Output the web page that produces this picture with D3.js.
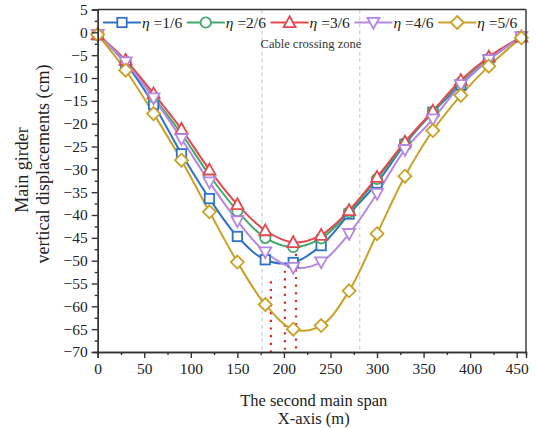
<!DOCTYPE html>
<html>
<head>
<meta charset="utf-8">
<script src="https://cdn.jsdelivr.net/npm/d3@7"></script>
<style>
  body { margin: 0; background: #fff; }
  svg { display: block; font-family: "Liberation Serif", "Times New Roman", serif; }
  svg text { font-family: "Liberation Serif", "Times New Roman", serif !important; }
</style>
</head>
<body>
<svg width="536" height="428"></svg>
<script>
// span positions (m)
var xs = [0, 30, 60, 90, 120, 150, 180, 210, 240, 270, 300, 330, 360, 390, 420, 455];

// vertical displacements (cm) for each eta
var eta1 = [-0.5, -6.8, -15.8, -26.6, -36.4, -44.7, -49.8, -50.4, -46.7, -39.8, -33.0, -24.5, -17.5, -11.5, -6.0, -1.0];
var eta2 = [-0.5, -6.4, -14.2, -22.2, -31.3, -39.1, -45.0, -47.0, -45.1, -39.4, -32.1, -24.3, -17.4, -11.0, -5.8, -1.0];
var eta3 = [-0.5, -6.1, -13.4, -21.2, -30.1, -37.7, -43.4, -46.0, -44.4, -39.0, -31.7, -24.0, -17.2, -10.5, -5.4, -1.0];
var eta4 = [-0.5, -6.5, -14.4, -23.3, -32.8, -41.3, -48.1, -51.5, -50.3, -44.1, -35.3, -25.7, -19.0, -11.5, -6.0, -1.0];
var eta5 = [-0.5, -8.3, -17.8, -28.0, -39.3, -50.3, -59.6, -65.0, -64.2, -56.6, -44.1, -31.5, -21.5, -13.8, -7.4, -1.2];

var names = ["=1/6", "=2/6", "=3/6", "=4/6", "=5/6"];
var colors = ["#2f72c4", "#43a86c", "#e04a4f", "#b487e0", "#c9a128"];
var symbols = ["square", "circle", "up", "down", "diamond"];

// cable crossing zone bounds and the red marker lines
var zone = [176.5, 281.5];
var markX = [186, 201, 213];
var markY = [-54.5, -50.5, -48.5];

var svg = d3.select("svg"),
    pLeft = 97.7, pRight = 526, pTop = 9.5, pBottom = 352;

var x = d3.scaleLinear().domain([0, 460]).range([pLeft, pRight]);
var y = d3.scaleLinear().domain([-70, 5]).range([pBottom, pTop]);

var series = [eta1, eta2, eta3, eta4, eta5].map(function(v, i) {
  return { name: names[i], color: colors[i], sym: symbols[i],
    pts: xs.map(function(d, j) { return [d, v[j]]; }) };
});

// marker shapes
function marker(g, sym, color) {
  var s = 5.2;
  if (sym == "square") g.append("rect").attr("x", -s + 0.5).attr("y", -s + 0.5).attr("width", 2 * s - 1).attr("height", 2 * s - 1);
  else if (sym == "circle") g.append("circle").attr("r", s);
  else if (sym == "up") g.append("path").attr("d", "M0," + (-s - 1) + "L" + (s + 0.8) + "," + (s - 0.5) + "L" + (-s - 0.8) + "," + (s - 0.5) + "Z");
  else if (sym == "down") g.append("path").attr("d", "M0," + (s + 1) + "L" + (s + 0.8) + "," + (-s + 0.5) + "L" + (-s - 0.8) + "," + (-s + 0.5) + "Z");
  else g.append("path").attr("d", "M0," + (-s - 1.3) + "L" + (s + 1.3) + ",0L0," + (s + 1.3) + "L" + (-s - 1.3) + ",0Z");
  g.selectAll("*").attr("fill", "#fff").attr("stroke", color).attr("stroke-width", 1.8);
}

// zone dashed lines
svg.selectAll(".zone").data(zone).enter().append("line")
  .attr("x1", function(d) { return x(d); }).attr("x2", function(d) { return x(d); })
  .attr("y1", pTop).attr("y2", pBottom)
  .attr("stroke", "#c4c4c4").attr("stroke-width", 1).attr("stroke-dasharray", "4,3");

svg.append("text")
  .attr("x", x((zone[0] + zone[1]) / 2)).attr("y", 48)
  .attr("text-anchor", "middle").attr("font-size", 12.5).attr("fill", "#333")
  .text("Cable crossing zone");

// red dotted lines
svg.selectAll(".mark").data(markX).enter().append("line")
  .attr("x1", function(d) { return x(d); }).attr("x2", function(d) { return x(d); })
  .attr("y1", function(d, i) { return y(markY[i]); }).attr("y2", pBottom)
  .attr("stroke", "#e02424").attr("stroke-width", 2.2).attr("stroke-dasharray", "2.2,5.5");

var line = d3.line()
  .x(function(d) { return x(d[0]); })
  .y(function(d) { return y(d[1]); })
  .curve(d3.curveCatmullRom.alpha(0.5));

series.forEach(function(s) {
  svg.append("path").datum(s.pts)
    .attr("fill", "none").attr("stroke", s.color).attr("stroke-width", 2)
    .attr("d", line);
});
series.forEach(function(s) {
  s.pts.forEach(function(p) {
    var g = svg.append("g").attr("transform", "translate(" + x(p[0]) + "," + y(p[1]) + ")");
    marker(g, s.sym, s.color);
  });
});

// axes
svg.append("g").attr("transform", "translate(0," + pBottom + ")")
  .call(d3.axisBottom(x).tickValues(d3.range(0, 451, 50)).tickSize(6).tickPadding(5));
svg.append("g").attr("transform", "translate(0," + pBottom + ")")
  .call(d3.axisBottom(x).tickValues(d3.range(25, 451, 50)).tickSize(3).tickFormat(""));
svg.append("g").attr("transform", "translate(" + pLeft + ",0)")
  .call(d3.axisLeft(y).tickValues(d3.range(-70, 6, 5)).tickSize(6).tickPadding(4));
svg.append("g").attr("transform", "translate(" + pLeft + ",0)")
  .call(d3.axisLeft(y).tickValues(d3.range(-67.5, 5, 5)).tickSize(3).tickFormat(""));

svg.selectAll(".tick text").attr("font-size", 15.5).attr("fill", "#222");
svg.selectAll(".domain, .tick line").attr("stroke", "#333").attr("stroke-width", 1.4);

// frame top / right
svg.append("line").attr("x1", pLeft).attr("x2", pRight).attr("y1", pTop).attr("y2", pTop)
  .attr("stroke", "#333").attr("stroke-width", 1.4);
svg.append("line").attr("x1", pRight).attr("x2", pRight).attr("y1", pTop).attr("y2", pBottom)
  .attr("stroke", "#333").attr("stroke-width", 1.4);

// axis titles
svg.append("text").attr("x", x(232)).attr("y", 406).attr("text-anchor", "middle")
  .attr("font-size", 16.5).attr("fill", "#222").text("The second main span");
svg.append("text").attr("x", x(232)).attr("y", 423.5).attr("text-anchor", "middle")
  .attr("font-size", 16.5).attr("fill", "#222").text("X-axis (m)");
svg.append("text").attr("transform", "translate(28,170) rotate(-90)").attr("text-anchor", "middle")
  .attr("font-size", 18).attr("fill", "#222").text("Main girder");
svg.append("text").attr("transform", "translate(49,164) rotate(-90)").attr("text-anchor", "middle")
  .attr("font-size", 18).attr("fill", "#222").text("vertical displacements (cm)");

// legend
var leg = svg.selectAll(".leg").data(series).enter().append("g")
  .attr("transform", function(d, i) { return "translate(" + (103 + i * 83.8) + ",22.5)"; });
leg.append("line").attr("x1", 0).attr("x2", 38).attr("y1", 0).attr("y2", 0)
  .attr("stroke", function(d) { return d.color; }).attr("stroke-width", 2);
leg.each(function(d) {
  var g = d3.select(this).append("g").attr("transform", "translate(19,0)");
  marker(g, d.sym, d.color);
});
var lt = leg.append("text").attr("x", 39).attr("y", 5.5).attr("font-size", 15.5).attr("fill", "#222");
lt.append("tspan").attr("font-style", "italic").text("η");
lt.append("tspan").text(function(d) { return " " + d.name; });
</script>
</body>
</html>
